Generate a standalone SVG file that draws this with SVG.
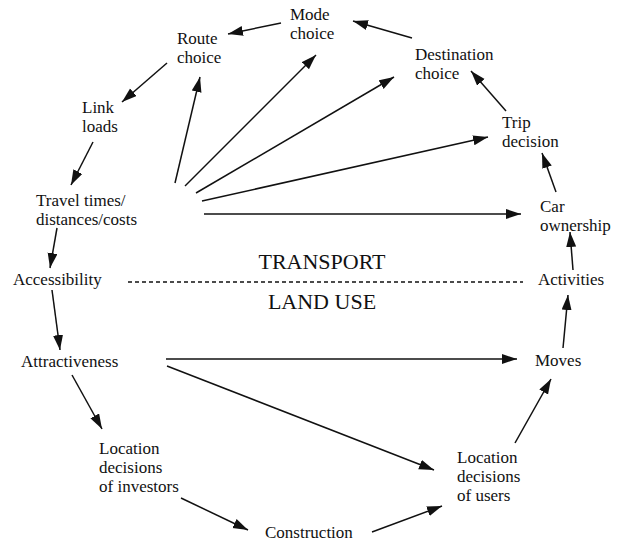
<svg xmlns="http://www.w3.org/2000/svg" width="618" height="542" viewBox="0 0 618 542">
<style>
text{font-family:"Liberation Serif","Times New Roman",serif;font-size:17px;fill:#111}
.big{font-size:22px;text-anchor:middle}
.c line{stroke:#111;stroke-width:1.5;marker-end:url(#ah)}
.c line.dash{stroke-dasharray:4 3;marker-end:none;stroke-width:1.4}
</style>
<defs>
<marker id="ah" markerUnits="userSpaceOnUse" markerWidth="18" markerHeight="12" refX="15" refY="5" orient="auto">
<path d="M0,0 L15,5 L0,10 z" fill="#111"/>
</marker>
</defs>
<rect width="618" height="542" fill="#fff"/>
<g class="c" id="connectors">
<line x1="412" y1="38" x2="353" y2="21"/>
<line x1="281" y1="23" x2="228" y2="34"/>
<line x1="167" y1="63" x2="122" y2="102"/>
<line x1="93" y1="142" x2="71" y2="185"/>
<line x1="57" y1="228" x2="50" y2="268"/>
<line x1="52" y1="290" x2="60" y2="350"/>
<line x1="72" y1="375" x2="102" y2="429"/>
<line x1="181" y1="498" x2="248" y2="530"/>
<line x1="372" y1="532" x2="442" y2="506"/>
<line x1="166" y1="359" x2="517" y2="359"/>
<line x1="167" y1="366" x2="434" y2="470"/>
<line x1="515" y1="443" x2="551" y2="379"/>
<line x1="563" y1="348" x2="568" y2="295"/>
<line x1="573" y1="270" x2="570" y2="232"/>
<line x1="556" y1="192" x2="542" y2="153"/>
<line x1="506" y1="111" x2="471" y2="71"/>
<line x1="175" y1="183" x2="200" y2="77"/>
<line x1="185" y1="186" x2="316" y2="55"/>
<line x1="196" y1="193" x2="394" y2="77"/>
<line x1="202" y1="201" x2="488" y2="137"/>
<line x1="204" y1="214" x2="521" y2="214"/>
<line class="dash" x1="128" y1="282" x2="523" y2="282"/>
</g>
<g id="mode"><text x="290" y="19.5">Mode</text><text x="290" y="38.5">choice</text></g>
<g id="route"><text x="177" y="43.5">Route</text><text x="177" y="62.5">choice</text></g>
<g id="destination"><text x="415" y="59.5">Destination</text><text x="415" y="78.5">choice</text></g>
<g id="trip"><text x="502" y="127.5">Trip</text><text x="502" y="146.5">decision</text></g>
<g id="car"><text x="540" y="211.5">Car</text><text x="540" y="230.5">ownership</text></g>
<g id="link"><text x="82" y="112.5">Link</text><text x="82" y="131.5">loads</text></g>
<g id="travel"><text x="36" y="205.5">Travel times/</text><text x="36" y="224.5">distances/costs</text></g>
<g id="accessibility"><text x="13" y="285">Accessibility</text></g>
<g id="activities"><text x="538" y="285">Activities</text></g>
<g id="transport"><text class="big" x="322" y="269">TRANSPORT</text></g>
<g id="landuse"><text class="big" x="322" y="309">LAND USE</text></g>
<g id="attractiveness"><text x="21" y="367">Attractiveness</text></g>
<g id="moves"><text x="535" y="366">Moves</text></g>
<g id="investors"><text x="99" y="454">Location</text><text x="99" y="473">decisions</text><text x="99" y="492">of investors</text></g>
<g id="users"><text x="457" y="463">Location</text><text x="457" y="482">decisions</text><text x="457" y="501">of users</text></g>
<g id="construction"><text x="265" y="538">Construction</text></g>
</svg>
